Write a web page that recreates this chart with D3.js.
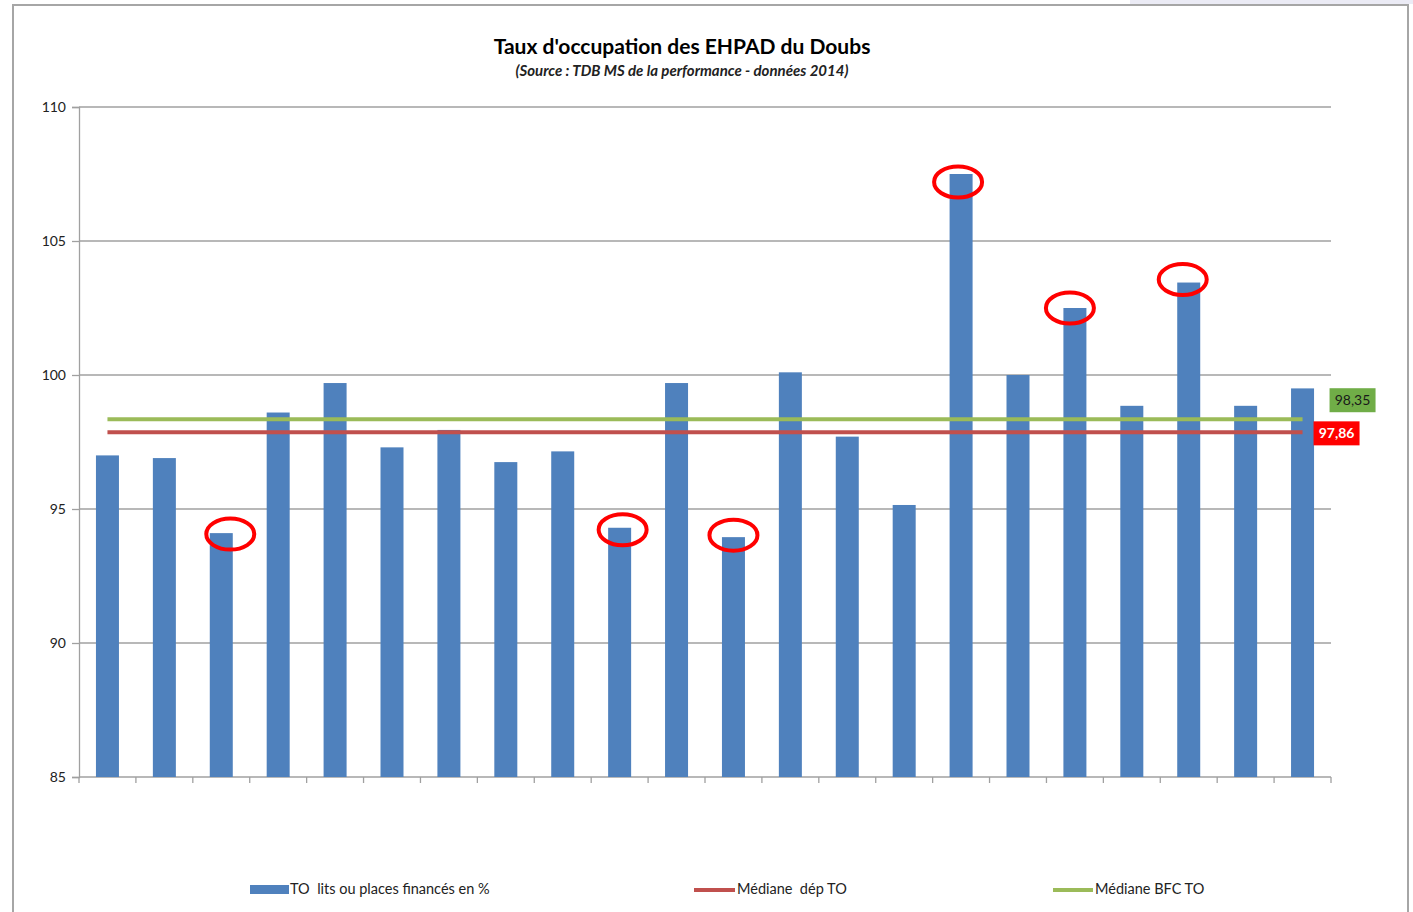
<!DOCTYPE html>
<html>
<head>
<meta charset="utf-8">
<script src="https://cdn.jsdelivr.net/npm/d3@7"></script>
<style>
	body { margin: 0; background: #fff; }
	svg { display: block; font-family: Lato, "Open Sans", sans-serif; }
</style>
</head>
<body>
<svg id="chart" width="1413" height="912"></svg>
<script>
// data
const categories = d3.range(1, 23).map(String);
const occupation = [97.0, 96.9, 94.1, 98.6, 99.7, 97.3, 97.95, 96.75, 97.15, 94.3, 99.7,
	93.95, 100.1, 97.7, 95.15, 107.5, 100.0, 102.5, 98.85, 103.45, 98.85, 99.5];
const medianeDep = 97.86;
const medianeBfc = 98.35;
const circled = ['3', '10', '12', '16', '18', '20'];
const yTicks = [85, 90, 95, 100, 105, 110];

// hand-drawn circles are not quite centred on the bars
const circleNudge = {'3': [9, 1], '10': [3, 2], '12': [0, -2], '16': [-3, 8], '18': [-5, 0], '20': [-6, -3]};

const margin = {top: 107, right: 82, bottom: 135, left: 79};
const width = 1413 - margin.left - margin.right;
const height = 912 - margin.top - margin.bottom;

const svg = d3.select('#chart');

// outer frame + strip at top right
svg.append('rect')
	.attr('x', 1130).attr('y', 0).attr('width', 283).attr('height', 4)
	.attr('fill', '#ebebf5');
svg.append('rect')
	.attr('x', 13).attr('y', 5).attr('width', 1395).attr('height', 920)
	.attr('fill', 'none').attr('stroke', '#a6a6a6').attr('stroke-width', 2);

// title
svg.append('text')
	.attr('x', 682).attr('y', 54)
	.attr('text-anchor', 'middle')
	.style('font-size', '21px').style('font-weight', 'bold')
	.text("Taux d'occupation des EHPAD du Doubs");
svg.append('text')
	.attr('x', 682).attr('y', 76)
	.attr('text-anchor', 'middle')
	.style('font-size', '15px').style('font-style', 'italic').style('font-weight', 'bold')
	.style('fill', '#222')
	.text('(Source : TDB MS de la performance - données 2014)');

const g = svg.append('g')
	.attr('transform', `translate(${margin.left}, ${margin.top})`);

const xScale = d3.scaleBand().domain(categories).range([0, width]);
const yScale = d3.scaleLinear().domain([85, 110]).range([height, 0]);

// gridlines
g.append('g')
	.selectAll('line')
	.data(yTicks.slice(1))
	.enter()
	.append('line')
		.attr('x1', 0).attr('x2', width)
		.attr('y1', d => yScale(d)).attr('y2', d => yScale(d))
		.attr('stroke', '#a0a0a0').attr('stroke-width', 1.3);

// y axis
const yAxis = d3.axisLeft(yScale).tickValues(yTicks).tickSize(7).tickPadding(6);
g.append('g')
	.attr('class', 'y-axis')
	.call(yAxis)
	.call(a => a.select('.domain').attr('stroke', '#a0a0a0').attr('stroke-width', 1.3))
	.call(a => a.selectAll('.tick line').attr('stroke', '#a0a0a0').attr('stroke-width', 1.3))
	.call(a => a.selectAll('.tick text').style('font-size', '14px').style('font-family', 'Lato, sans-serif').attr('fill', '#222'));

// x axis: tick marks at category boundaries
g.append('line')
	.attr('x1', 0).attr('x2', width)
	.attr('y1', height).attr('y2', height)
	.attr('stroke', '#a0a0a0').attr('stroke-width', 1.3);
g.append('g')
	.selectAll('line')
	.data(d3.range(categories.length + 1))
	.enter()
	.append('line')
		.attr('x1', i => i * xScale.step()).attr('x2', i => i * xScale.step())
		.attr('y1', height).attr('y2', height + 6)
		.attr('stroke', '#a0a0a0').attr('stroke-width', 1.3);

// bars
const barW = 23;
g.append('g')
	.selectAll('rect')
	.data(occupation)
	.enter()
	.append('rect')
		.attr('x', (d, i) => xScale(categories[i]) + xScale.bandwidth() / 2 - barW / 2)
		.attr('y', d => yScale(d))
		.attr('width', barW)
		.attr('height', d => height - yScale(d))
		.attr('fill', '#4f81bd');

// median lines
const first = xScale(categories[0]) + xScale.bandwidth() / 2;
const last = xScale(categories[categories.length - 1]) + xScale.bandwidth() / 2;
const medians = [
	{value: medianeBfc, color: '#9bbb59', label: '98,35', box: '#70ad47', text: '#1a1a1a', dx: 27, dy: -19},
	{value: medianeDep, color: '#c0504d', label: '97,86', box: '#ff0000', text: '#fff', dx: 11, dy: 1}
];
medians.forEach(m => {
	g.append('line')
		.attr('x1', first).attr('x2', last)
		.attr('y1', yScale(m.value)).attr('y2', yScale(m.value))
		.attr('stroke', m.color).attr('stroke-width', 4);
	const lx = last + m.dx;
	const ly = yScale(m.value) + m.dy;
	g.append('rect')
		.attr('x', lx).attr('y', ly - 12)
		.attr('width', 46).attr('height', 24)
		.attr('fill', m.box);
	g.append('text')
		.attr('x', lx + 23).attr('y', ly + 5)
		.attr('text-anchor', 'middle')
		.style('font-size', '14px')
		.style('font-weight', m.value === medianeDep ? 'bold' : 'normal')
		.attr('fill', m.text)
		.text(m.label);
});

// red circles around highlighted bars
g.append('g')
	.selectAll('ellipse')
	.data(circled)
	.enter()
	.append('ellipse')
		.attr('cx', c => xScale(c) + xScale.bandwidth() / 2 + circleNudge[c][0])
		.attr('cy', c => yScale(occupation[categories.indexOf(c)]) + circleNudge[c][1])
		.attr('rx', 24).attr('ry', 15.5)
		.attr('fill', 'none')
		.attr('stroke', '#ff0000').attr('stroke-width', 4);

// legend
const legend = svg.append('g').style('font-size', '14.5px').attr('fill', '#222');
legend.append('rect').attr('x', 250).attr('y', 885).attr('width', 39).attr('height', 9).attr('fill', '#4f81bd');
legend.append('text').attr('x', 290).attr('y', 894).text('TO  lits ou places financés en %').style('white-space', 'pre');
legend.append('line').attr('x1', 694).attr('x2', 735).attr('y1', 890).attr('y2', 890)
	.attr('stroke', '#c0504d').attr('stroke-width', 4);
legend.append('text').attr('x', 737).attr('y', 894).text('Médiane  dép TO').style('white-space', 'pre');
legend.append('line').attr('x1', 1053).attr('x2', 1093).attr('y1', 890).attr('y2', 890)
	.attr('stroke', '#9bbb59').attr('stroke-width', 4);
legend.append('text').attr('x', 1095).attr('y', 894).text('Médiane BFC TO');
</script>
</body>
</html>
